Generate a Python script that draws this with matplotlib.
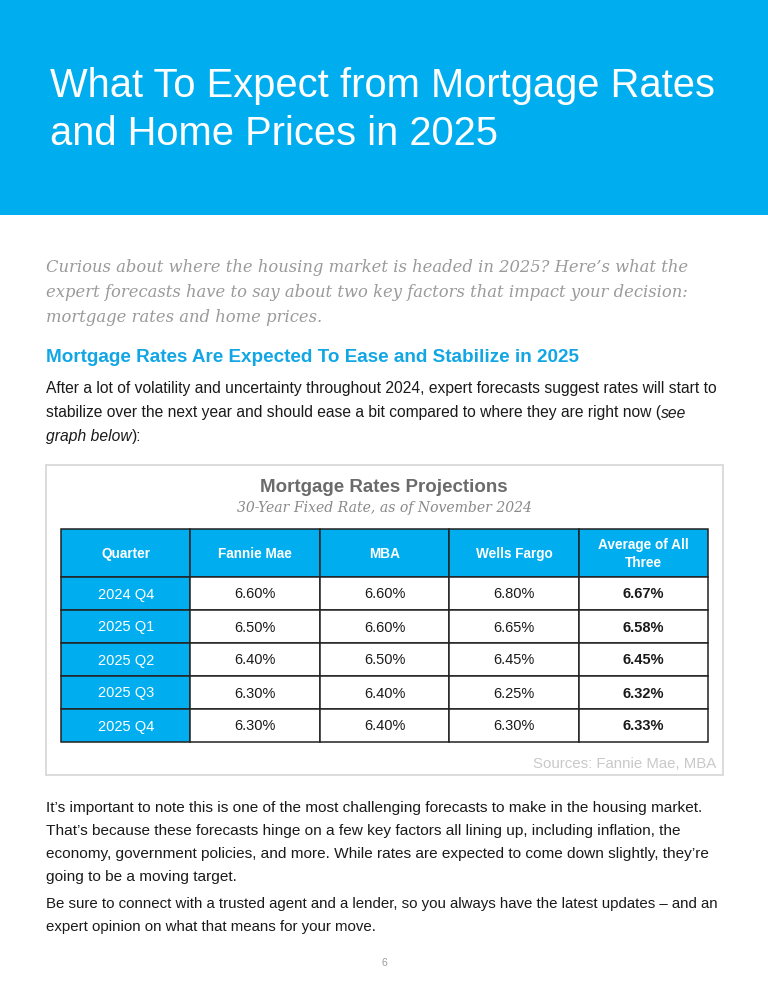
import matplotlib
matplotlib.use("Agg")
import matplotlib.pyplot as plt
from matplotlib.patches import Rectangle

# ---- table data ----
columns = ["Quarter", "Fannie Mae", "MBA", "Wells Fargo", "Average of All\nThree"]
quarters = ["2024 Q4", "2025 Q1", "2025 Q2", "2025 Q3", "2025 Q4"]
fannie_mae = [6.60, 6.50, 6.40, 6.30, 6.30]
mba = [6.60, 6.60, 6.50, 6.40, 6.40]
wells_fargo = [6.80, 6.65, 6.45, 6.25, 6.30]
average = [6.67, 6.58, 6.45, 6.32, 6.33]

# ---- page text ----
title_lines = ["What To Expect from Mortgage Rates", "and Home Prices in 2025"]
intro_lines = [
    "Curious about where the housing market is headed in 2025? Here\u2019s what the",
    "expert forecasts have to say about two key factors that impact your decision:",
    "mortgage rates and home prices.",
]
heading = "Mortgage Rates Are Expected To Ease and Stabilize in 2025"
body_lines = [
    [("After a lot of volatility and uncertainty throughout 2024, expert forecasts suggest rates will start to", "normal")],
    [("stabilize over the next year and should ease a bit compared to where they are right now (", "normal"), ("see", "italic")],
    [("graph below", "italic"), ("):", "normal")],
]
closing_lines = [
    "It\u2019s important to note this is one of the most challenging forecasts to make in the housing market.",
    "That\u2019s because these forecasts hinge on a few key factors all lining up, including inflation, the",
    "economy, government policies, and more. While rates are expected to come down slightly, they\u2019re",
    "going to be a moving target.",
]
closing_lines2 = [
    "Be sure to connect with a trusted agent and a lender, so you always have the latest updates \u2013 and an",
    "expert opinion on what that means for your move.",
]

BLUE = "#00AEEF"
SANS = "Liberation Sans"
SERIF = "DejaVu Serif"

fig = plt.figure(figsize=(7.68, 9.94), dpi=100)
ax = fig.add_axes([0, 0, 1, 1])
ax.set_xlim(0, 768)
ax.set_ylim(994, 0)
ax.axis("off")
renderer = fig.canvas.get_renderer()


def fit_size(text, width, **kw):
    # font size (pt) that makes `text` span `width` pixels
    t = ax.text(0, 0, text, fontsize=10, **kw)
    w = t.get_window_extent(renderer).width
    t.remove()
    return 10 * width / w


def runs(x, y, parts, size, **kw):
    for s, style in parts:
        t = ax.text(x, y, s, fontsize=size, style=style, va="center", ha="left", **kw)
        x += t.get_window_extent(renderer).width


# header band
ax.add_patch(Rectangle((0, 0), 768, 215, facecolor=BLUE, edgecolor="none"))
fs = fit_size(title_lines[0], 667, family=SANS)
for i, line in enumerate(title_lines):
    ax.text(50, 86 + 48 * i, line, fontsize=fs, family=SANS, color="white", va="center")

# italic intro
fs = fit_size(intro_lines[0], 643, family=SERIF, style="italic")
for i, line in enumerate(intro_lines):
    ax.text(46, 267 + 25.5 * i, line, fontsize=fs, family=SERIF, style="italic",
            color="#9a9a9a", va="center")

# section heading
fs = fit_size(heading, 532, family=SANS, weight="bold")
ax.text(46, 357, heading, fontsize=fs, family=SANS, weight="bold", color="#12A7E4", va="center")

# body paragraph
fs_body = fit_size(body_lines[0][0][0], 674, family=SANS)
for i, parts in enumerate(body_lines):
    runs(46, 389 + 24 * i, parts, fs_body, family=SANS, color="#1a1a1a")

# chart box
ax.add_patch(Rectangle((46, 465), 677, 310, facecolor="white", edgecolor="#d6d6d6", linewidth=1.2))
fs = fit_size("Mortgage Rates Projections", 248, family=SANS, weight="bold")
ax.text(384, 488, "Mortgage Rates Projections", fontsize=fs, family=SANS, weight="bold",
        color="#6b6b6b", ha="center", va="center")
sub = "30-Year Fixed Rate, as of November 2024"
fs = fit_size(sub, 295, family=SERIF, style="italic")
ax.text(384, 508, sub, fontsize=fs, family=SERIF, style="italic", color="#8a8a8a",
        ha="center", va="center")

# table
left, right = 61, 708
col_w = (right - left) / len(columns)
head_top, head_h, row_h = 529, 48, 33
rows = [[q, "%.2f%%" % a, "%.2f%%" % b, "%.2f%%" % c, "%.2f%%" % d]
        for q, a, b, c, d in zip(quarters, fannie_mae, mba, wells_fargo, average)]

for j, name in enumerate(columns):
    x0 = left + j * col_w
    ax.add_patch(Rectangle((x0, head_top), col_w, head_h, facecolor=BLUE,
                           edgecolor="#222222", linewidth=1.1))
    ax.text(x0 + col_w / 2, head_top + head_h / 2 + 1, name, fontsize=9.8, family=SANS,
            weight="bold", color="white", ha="center", va="center", linespacing=1.3)

for i, row in enumerate(rows):
    y0 = head_top + head_h + i * row_h
    for j, val in enumerate(row):
        x0 = left + j * col_w
        face = BLUE if j == 0 else "white"
        ax.add_patch(Rectangle((x0, y0), col_w, row_h, facecolor=face,
                               edgecolor="#222222", linewidth=1.1))
        ax.text(x0 + col_w / 2, y0 + row_h / 2 + 1, val, fontsize=10.5, family=SANS,
                weight="bold" if j == len(row) - 1 else "normal",
                color="white" if j == 0 else "#1a1a1a", ha="center", va="center")

ax.text(716, 764, "Sources: Fannie Mae, MBA", fontsize=fit_size("Sources: Fannie Mae, MBA", 183, family=SANS),
        family=SANS, color="#c9c9c9", ha="right", va="center")

# closing paragraphs
fs = fit_size(closing_lines[0], 658, family=SANS)
for i, line in enumerate(closing_lines):
    ax.text(46, 808 + 23 * i, line, fontsize=fs, family=SANS, color="#1a1a1a", va="center")
fs = fit_size(closing_lines2[0], 672, family=SANS)
for i, line in enumerate(closing_lines2):
    ax.text(46, 904 + 23 * i, line, fontsize=fs, family=SANS, color="#1a1a1a", va="center")

ax.text(384, 963, "6", fontsize=7.5, family=SANS, color="#9a9a9a", ha="center", va="center")

fig.savefig("out.png", dpi=100)
